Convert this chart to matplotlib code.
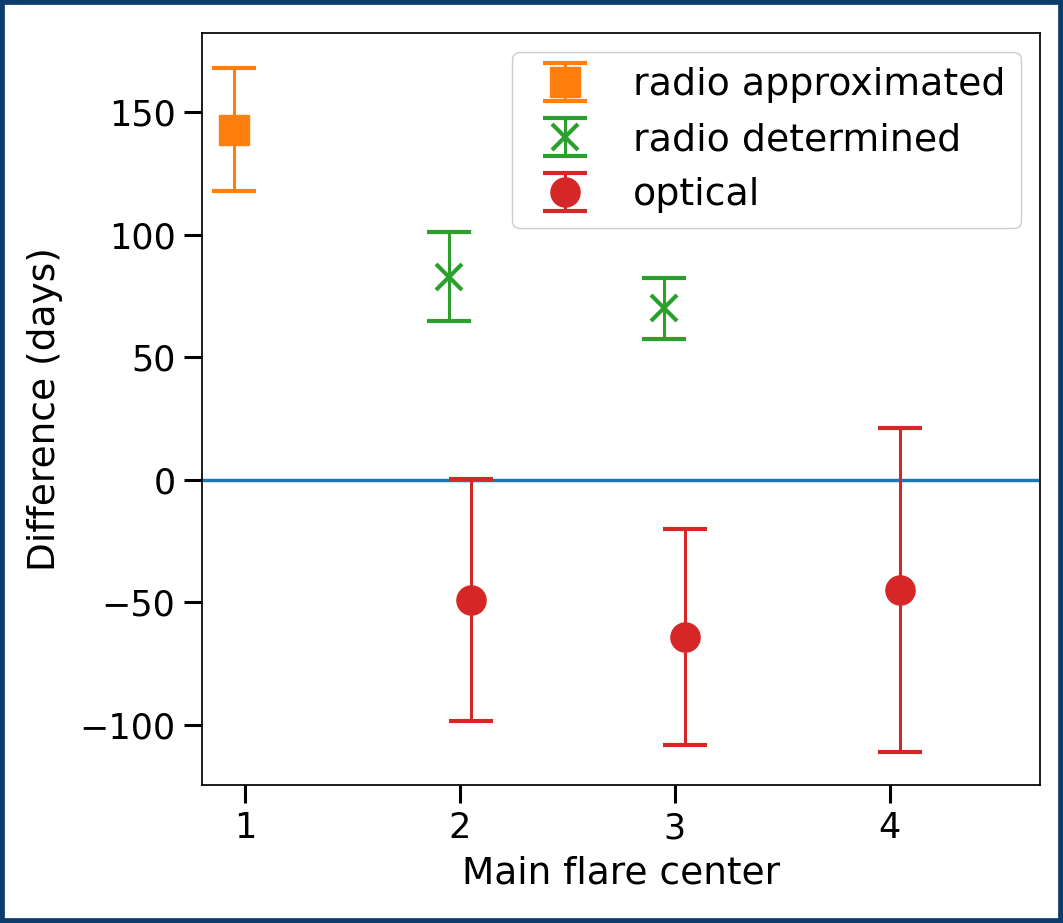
import matplotlib
matplotlib.use("Agg")
import matplotlib.pyplot as plt
from matplotlib.patches import Rectangle

# Flare centers and measured offsets (days) with uncertainties
approx_x = [1]
approx_y = [143]
approx_err = [25]

determined_x = [2, 3]
determined_y = [83, 70]
determined_err = [18, 12.5]

optical_x = [2, 3, 4]
optical_y = [-49, -64, -45]
optical_err = [49.5, 44, 66]

xticks = [1, 2, 3, 4]
yticks = [-100, -50, 0, 50, 100, 150]

shift = 0.05

fig = plt.figure(figsize=(10.63, 9.23), dpi=100)
ax = fig.add_axes([202 / 1063, 1 - 785 / 923, (1040 - 202) / 1063, (785 - 33) / 923])

common = dict(linestyle="none", elinewidth=2.2, capsize=15.5, capthick=3.0)

ax.axhline(0, color="tab:blue", lw=2.5, zorder=1)

ax.errorbar([v - shift for v in approx_x], approx_y, yerr=approx_err,
            color="tab:orange", marker="s", markersize=21,
            label="radio approximated", **common)
ax.errorbar([v - shift for v in determined_x], determined_y, yerr=determined_err,
            color="tab:green", marker="x", markersize=19, markeredgewidth=3,
            label="radio determined", **common)
ax.errorbar([v + shift for v in optical_x], optical_y, yerr=optical_err,
            color="tab:red", marker="o", markersize=21,
            label="optical", **common)

ax.set_xlim(0.80, 4.70)
ax.set_ylim(-124.5, 182.4)
ax.set_xticks(xticks)
ax.set_yticks(yticks)
ax.tick_params(axis="both", labelsize=25.2, length=13, width=2.2, pad=6)
for sp in ax.spines.values():
    sp.set_linewidth(1.25)

ax.set_xlabel("Main flare center", fontsize=27, labelpad=7)
ax.set_ylabel("Difference (days)", fontsize=27, labelpad=12)

ax.legend(loc="upper right", fontsize=27.3, framealpha=1.0)

# Dark frame around the whole figure
fig.patches.append(Rectangle((0, 0), 1, 1, transform=fig.transFigure,
                             fill=False, edgecolor="#0b3c6b", linewidth=7,
                             zorder=10))

fig.savefig("out.png", dpi=100)
